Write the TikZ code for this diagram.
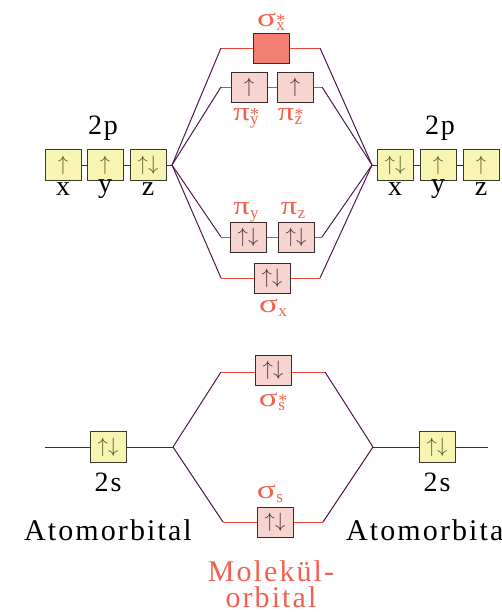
\documentclass[tikz,border=0pt]{standalone}
\usepackage{fontspec}
\setmainfont{Liberation Serif}
\newfontfamily\spaced[LetterSpace=7]{Liberation Serif}
\definecolor{aofill}{HTML}{F8F4B2}
\definecolor{aoborder}{HTML}{3A3A2A}
\definecolor{aoarrow}{HTML}{5A5A2A}
\definecolor{mofill}{HTML}{F8D4D0}
\definecolor{moborder}{HTML}{3A2A2A}
\definecolor{moarrow}{HTML}{4A3636}
\definecolor{sigstar}{HTML}{F27F72}
\definecolor{redline}{HTML}{EE4433}
\definecolor{redtext}{HTML}{F26050}
\definecolor{plum}{HTML}{4E1A4E}
\newcommand{\upar}{$\uparrow$}
\newcommand{\updn}{$\uparrow\downarrow$}
\newcommand{\gsig}{\scalebox{1.35}[1]{σ}}
\newcommand{\gpi}{\scalebox{1.25}[1]{π}}
% orbital label: #1 letter, #2 subscript, #3 superscript
\newcommand{\olab}[3]{#1\rlap{\kern0.5pt\fontsize{18}{18}\selectfont #3}\raisebox{-4pt}{\kern0.5pt\fontsize{17}{17}\selectfont #2}}
\begin{document}
\begin{tikzpicture}[x=1pt,y=-1pt,
  ao/.style={draw=aoborder, fill=aofill, minimum width=36pt, minimum height=31pt,
    inner sep=0pt, line width=0.8pt, text=aoarrow, font=\fontsize{22}{22}\selectfont},
  mo/.style={draw=moborder, fill=mofill, minimum width=36pt, minimum height=30pt,
    inner sep=0pt, line width=1pt, text=moarrow, font=\fontsize{22}{22}\selectfont},
  blbl/.style={text=black, font=\spaced\fontsize{28}{28}\selectfont, inner sep=0pt},
  rlbl/.style={text=redtext, font=\fontsize{26}{26}\selectfont, inner sep=0pt, anchor=base},
  rtxt/.style={text=redtext, font=\spaced\fontsize{30}{30}\selectfont, inner sep=0pt},
  atxt/.style={text=black, font=\spaced\fontsize{30}{30}\selectfont, inner sep=0pt},
  rl/.style={draw=redline, line width=1pt},
  pl/.style={draw=plum, line width=1pt},
  bl/.style={draw=black!80, line width=1pt}]
\useasboundingbox (0,0) rectangle (502,613);

% junction and line-end coordinates
\coordinate (jl) at (172,165);
\coordinate (jr) at (372,165);
\coordinate (a1l) at (221,48);  \coordinate (a1r) at (320,48);
\coordinate (a2l) at (221,87);  \coordinate (a2r) at (322,87);
\coordinate (b2l) at (221,237); \coordinate (b2r) at (322,237);
\coordinate (b1l) at (221,278); \coordinate (b1r) at (320,278);
\coordinate (sjl) at (173,447);
\coordinate (sjr) at (373,447);
\coordinate (ssal) at (221,372); \coordinate (ssar) at (325,372);
\coordinate (ssbl) at (223,522); \coordinate (ssbr) at (323,522);
\coordinate (s2le) at (45,447);
\coordinate (s2re) at (488,447);

% MO lines
\draw[rl] (a1l) -- (a1r);
\draw[rl] (a2l) -- (a2r);
\draw[rl] (b2l) -- (b2r);
\draw[rl] (b1l) -- (b1r);
\draw[rl] (ssal) -- (ssar);
\draw[rl] (ssbl) -- (ssbr);

% correlation lines
\foreach \p in {a1l,a2l,b2l,b1l} \draw[pl] (jl) -- (\p);
\foreach \p in {a1r,a2r,b2r,b1r} \draw[pl] (jr) -- (\p);
\draw[pl] (sjl) -- (ssal);
\draw[pl] (sjl) -- (ssbl);
\draw[pl] (sjr) -- (ssar);
\draw[pl] (sjr) -- (ssbr);

% 2s lines
\draw[bl] (s2le) -- (sjl);
\draw[bl] (sjr) -- (s2re);

% left 2p
\node[ao] (lx) at (63,165) {\upar};
\node[ao] (ly) at (105,165) {\upar};
\node[ao] (lz) at (148,165) {\updn};
\draw[bl] (lx) -- (ly);
\draw[bl] (ly) -- (lz);
\draw[bl] (lz) -- (jl);
\node[blbl] (l2p) at (103,128) {2p};
\node[blbl] (llx) at (63,189) {x};
\node[blbl] (lly) at (105,189) {y};
\node[blbl] (llz) at (148,189) {z};

% right 2p
\node[ao] (rx) at (395,165) {\updn};
\node[ao] (ry) at (438,165) {\upar};
\node[ao] (rz) at (481,165) {\upar};
\draw[bl] (jr) -- (rx);
\draw[bl] (rx) -- (ry);
\draw[bl] (ry) -- (rz);
\node[blbl] (r2p) at (440,128) {2p};
\node[blbl] (rlx) at (395,189) {x};
\node[blbl] (rly) at (438,189) {y};
\node[blbl] (rlz) at (481,189) {z};

% p MOs
\node[mo, fill=sigstar] (sxs) at (271,48) {};
\node[rlbl] (sxsl) at (271,27) {\olab{\gsig}{x}{*}};
\node[mo] (pys) at (249,87) {\upar};
\node[mo] (pzs) at (295,87) {\upar};
\node[rlbl] (pysl) at (246,120) {\olab{\gpi}{y}{*}};
\node[rlbl] (pzsl) at (290,120) {\olab{\gpi}{z}{*}};
\node[mo] (py) at (248,237) {\updn};
\node[mo] (pz) at (296,237) {\updn};
\node[rlbl] (pyl) at (246,214) {\olab{\gpi}{y}{}};
\node[rlbl] (pzl) at (293,214) {\olab{\gpi}{z}{}};
\node[mo] (sx) at (272,278) {\updn};
\node[rlbl] (sxl) at (273,312) {\olab{\gsig}{x}{}};

% s MOs
\node[mo] (sss) at (273,370) {\updn};
\node[rlbl] (sssl) at (272,406) {\olab{\gsig}{s}{*}};
\node[mo] (ss) at (275,522) {\updn};
\node[rlbl] (ssl) at (270,498) {\olab{\gsig}{s}{}};

% 2s AOs
\node[ao] (l2s) at (108,447) {\updn};
\node[blbl] (l2sl) at (108,482) {2s};
\node[ao] (r2s) at (437,447) {\updn};
\node[blbl] (r2sl) at (437,482) {2s};

% bottom texts
\node[atxt, anchor=base] (lat) at (108,540) {Atomorbital};
\node[atxt, anchor=base west] (rat) at (346,540) {Atomorbital};
\node[rtxt, anchor=base] (mol1) at (271,581) {Molekül-};
\node[rtxt, anchor=base] (mol2) at (271,607) {orbital};
\end{tikzpicture}
\end{document}
